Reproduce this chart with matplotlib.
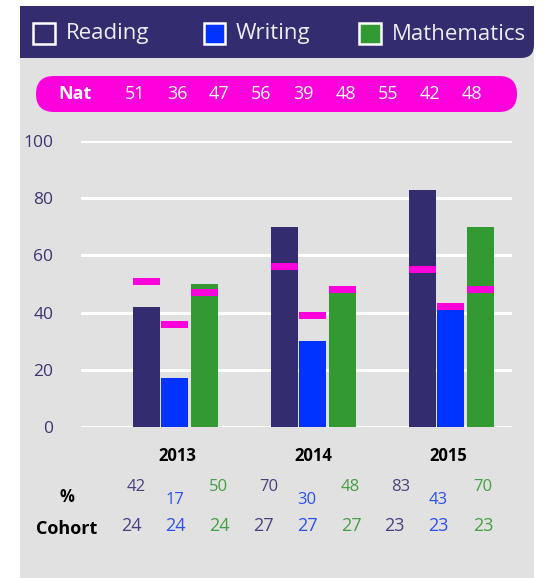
import matplotlib
matplotlib.use("Agg")
import matplotlib.pyplot as plt
from matplotlib.patches import Rectangle, FancyBboxPatch

plt.rcParams["font.family"] = ["Open Sans", "DejaVu Sans"]

# --- data ---------------------------------------------------------------
years = ["2013", "2014", "2015"]
subjects = ["Reading", "Writing", "Mathematics"]
reading = [42, 70, 83]
writing = [17, 30, 43]
maths = [50, 48, 70]
nat_reading = [51, 56, 55]
nat_writing = [36, 39, 42]
nat_maths = [47, 48, 48]
cohort = [24, 27, 23]

# --- style ----------------------------------------------------------------
NAVY = "#332c6e"
BLUE = "#0033ff"
GREEN = "#339933"
MAGENTA = "#ff00dd"
BG = "#e1e1e1"
TXT_COLORS = ["#4a4080", "#2a50f0", "#44a044"]
COLORS = [NAVY, BLUE, GREEN]

W, H = 544, 578
fig = plt.figure(figsize=(W / 100, H / 100), dpi=100)

# overlay axes in pixel units for the panel furniture
bg = fig.add_axes([0, 0, 1, 1], zorder=0)
bg.set_xlim(0, W)
bg.set_ylim(H, 0)
bg.axis("off")

bg.add_patch(Rectangle((20, 6), 514, 572, facecolor=BG, edgecolor="none"))

# header band, only bottom-right corner rounded
bg.add_patch(FancyBboxPatch((20, 6), 514, 52, boxstyle="round,pad=0,rounding_size=13",
                            facecolor=NAVY, edgecolor="none"))
bg.add_patch(Rectangle((20, 6), 40, 52, facecolor=NAVY, edgecolor="none"))
bg.add_patch(Rectangle((20, 6), 514, 20, facecolor=NAVY, edgecolor="none"))

legend_x = [33, 203.5, 359]
for x0, name, c in zip(legend_x, subjects, COLORS):
    bg.add_patch(Rectangle((x0, 22.5), 21.5, 21.5, facecolor=c, edgecolor="white",
                           linewidth=1.8))
    bg.text(x0 + 32.5, 34, name, color="#ececf4", fontsize=16, va="center", ha="left")

# national average pill
bg.add_patch(FancyBboxPatch((36, 76), 481, 36, boxstyle="round,pad=0,rounding_size=18",
                            facecolor=MAGENTA, edgecolor="none"))
bg.text(74.5, 94, "Nat", color="white", fontsize=13, fontweight="bold", ha="center",
        va="center")
nat_all = []
for i in range(3):
    nat_all += [nat_reading[i], nat_writing[i], nat_maths[i]]
for k, v in enumerate(nat_all):
    bg.text(135 + k * 42.1, 94, str(v), color="white", fontsize=13, ha="center", va="center")

# --- main chart -------------------------------------------------------------
ax = fig.add_axes([81 / W, 1 - 427 / H, (512 - 81) / W, (427 - 141) / H], zorder=1)
ax.set_facecolor("none")
ax.set_xlim(81, 512)
ax.set_ylim(0, 100)
for s in ax.spines.values():
    s.set_visible(False)
ax.set_xticks([])
ax.set_yticks(range(0, 101, 20))
ax.tick_params(axis="y", length=0, labelsize=12.5, labelcolor="#3d3570", pad=20)
ax.yaxis.grid(True, color="white", linewidth=2.2)
ax.set_axisbelow(True)

group_x = [174.5, 312.5, 450.5]
offsets = [-28, 0, 30]
bar_w = 27
series = [reading, writing, maths]
nats = [nat_reading, nat_writing, nat_maths]
for j in range(3):
    xs = [g + offsets[j] for g in group_x]
    ax.bar(xs, series[j], width=bar_w, color=COLORS[j], zorder=2, clip_on=False)
    ax.bar(xs, [2.45] * 3, bottom=[n - 1.22 for n in nats[j]], width=bar_w,
           color=MAGENTA, zorder=3, clip_on=False)

# --- table below --------------------------------------------------------------
year_x = [177, 313, 448]
for x, y in zip(year_x, years):
    bg.text(x, 456, y, fontsize=12, fontweight="bold", color="black", ha="center",
            va="center")

bg.text(66.5, 497, "%", fontsize=12, fontweight="bold", color="black", ha="center",
        va="center")
bg.text(67, 529, "Cohort", fontsize=13, fontweight="bold", color="black", ha="center",
        va="center")

pct_x = [[136, 269, 400.5], [175, 307, 438.5], [218.5, 350, 482.5]]
pct_y = [487, 500, 487]
coh_x = [[131, 263, 394.5], [175, 307, 438.5], [219, 351, 483]]
for j in range(3):
    for i in range(3):
        bg.text(pct_x[j][i], pct_y[j], str(series[j][i]), fontsize=12, color=TXT_COLORS[j],
                ha="center", va="center")
        bg.text(coh_x[j][i], 526, str(cohort[i]), fontsize=13, color=TXT_COLORS[j],
                ha="center", va="center")

fig.savefig("out.png", dpi=100)
